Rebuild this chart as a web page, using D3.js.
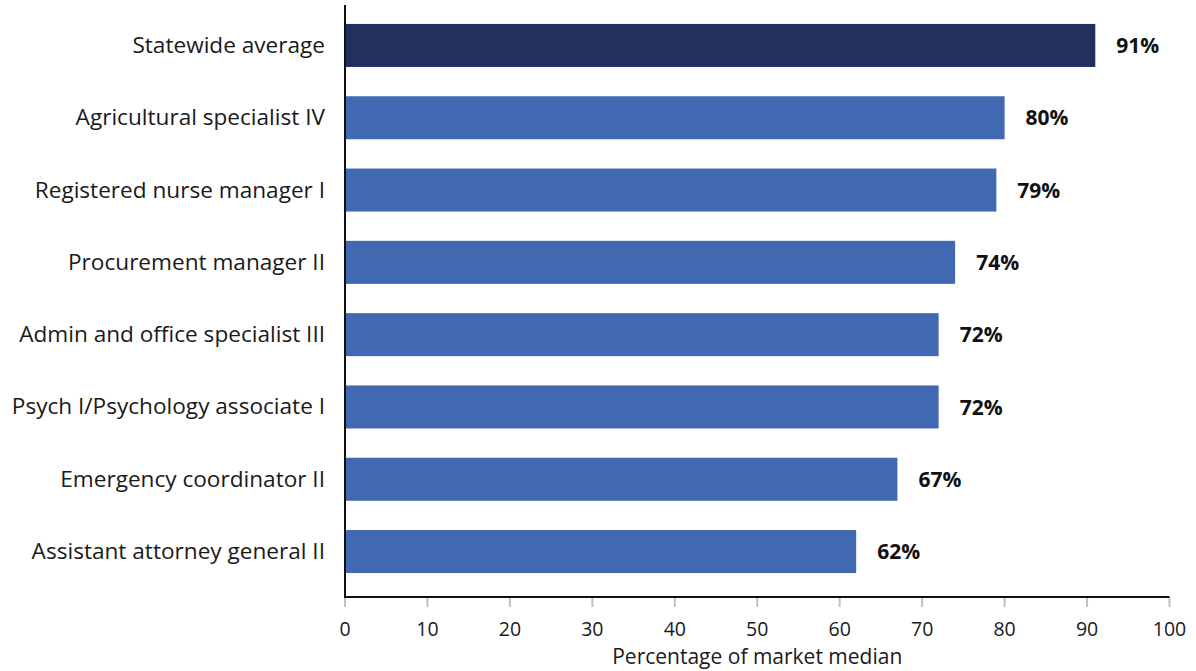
<!DOCTYPE html>
<html><head><meta charset="utf-8">
<script src="https://cdn.jsdelivr.net/npm/d3@7"></script>
<style>body{margin:0;background:#fff}text{font-family:"Open Sans",sans-serif}</style>
</head><body><svg id="c" width="1196" height="671"></svg>
<script>
const categories = ["Statewide average","Agricultural specialist IV","Registered nurse manager I","Procurement manager II","Admin and office specialist III","Psych I/Psychology associate I","Emergency coordinator II","Assistant attorney general II"];
const values = [91,80,79,74,72,72,67,62];
const xTicks = [0,10,20,30,40,50,60,70,80,90,100];
const axisTitle = "Percentage of market median";

const svg = d3.select("#c");
const x = d3.scaleLinear().domain([0,100]).range([345,1169.5]);
const y = d3.scaleBand().domain(categories).range([9.3,587.7]).paddingInner(0.405).paddingOuter(0.2025);

svg.selectAll("rect.bar").data(categories).join("rect")
  .attr("x", x(0)).attr("y", d=>y(d)).attr("height", y.bandwidth())
  .attr("width", (d,i)=>x(values[i])-x(0))
  .attr("fill", (d,i)=> i===0 ? "#22305F" : "#4169B1");

svg.selectAll("text.val").data(categories).join("text")
  .attr("x",(d,i)=>x(values[i])+21).attr("y",d=>y(d)+y.bandwidth()/2)
  .attr("dy","0.36em").attr("font-size",21).attr("font-weight","bold").attr("fill","#111")
  .text((d,i)=>values[i]+"%");

svg.selectAll("text.cat").data(categories).join("text")
  .attr("x",325).attr("y",d=>y(d)+y.bandwidth()/2).attr("dy","0.33em")
  .attr("text-anchor","end").attr("font-size",22.6).attr("fill","#1a1a1a").text(d=>d);

// ticks
svg.selectAll("line.tk").data(xTicks).join("line")
  .attr("x1",d=>x(d)).attr("x2",d=>x(d)).attr("y1",597).attr("y2",607)
  .attr("stroke","#c0c0c0").attr("stroke-width",2);
svg.selectAll("text.tl").data(xTicks).join("text")
  .attr("x",d=>x(d)).attr("y",629).attr("dy","0.35em").attr("text-anchor","middle")
  .attr("font-size",19.5).attr("fill","#1a1a1a").text(d=>d);

svg.append("line").attr("x1",x(0)).attr("x2",x(100)).attr("y1",597).attr("y2",597).attr("stroke","#111").attr("stroke-width",2);
svg.append("line").attr("x1",x(0)).attr("x2",x(0)).attr("y1",5).attr("y2",598).attr("stroke","#111").attr("stroke-width",2);

svg.append("text").attr("x",(x(0)+x(100))/2).attr("y",664).attr("text-anchor","middle")
  .attr("font-size",21).attr("fill","#1a1a1a").text(axisTitle);
</script></body></html>
